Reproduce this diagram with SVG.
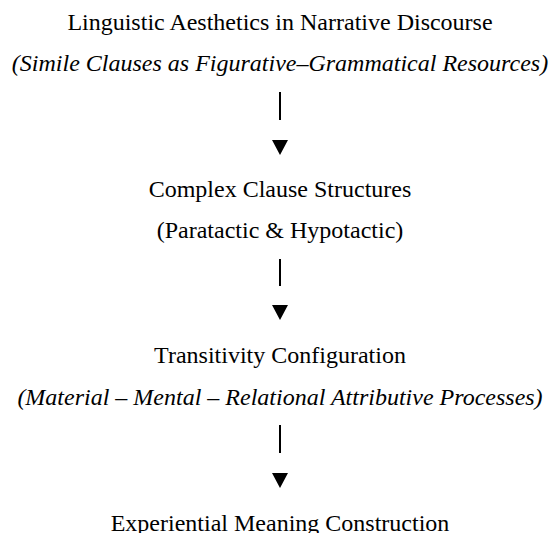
<svg xmlns="http://www.w3.org/2000/svg" width="550" height="533" viewBox="0 0 550 533">
  <style>
    .t { font-family: "Liberation Serif", "Times New Roman", serif; font-size: 24px; fill: #000; text-anchor: middle; }
    .i { font-style: italic; }
    .bar { stroke: #000; stroke-width: 2; }
    .head { fill: #000; }
  </style>
  <rect width="550" height="533" fill="#fff"/>
  <g id="node1">
    <text class="t" x="280" y="30">Linguistic Aesthetics in Narrative Discourse</text>
    <text class="t i" x="280" y="71">(Simile Clauses as Figurative–Grammatical Resources)</text>
  </g>
  <g id="node2">
    <text class="t" x="280" y="197">Complex Clause Structures</text>
    <text class="t" x="280" y="238">(Paratactic &amp; Hypotactic)</text>
  </g>
  <g id="node3">
    <text class="t" x="280" y="363">Transitivity Configuration</text>
    <text class="t i" x="280" y="405">(Material – Mental – Relational Attributive Processes)</text>
  </g>
  <g id="node4">
    <text class="t" x="280" y="531">Experiential Meaning Construction</text>
  </g>
  <g id="connectors">
    <line class="bar" x1="280" y1="92" x2="280" y2="120"/>
    <polygon class="head" points="272,140 288,140 280,155"/>
    <line class="bar" x1="280" y1="259" x2="280" y2="286"/>
    <polygon class="head" points="272,305 288,305 280,320"/>
    <line class="bar" x1="280" y1="425" x2="280" y2="453"/>
    <polygon class="head" points="272,473 288,473 280,488"/>
  </g>
</svg>
